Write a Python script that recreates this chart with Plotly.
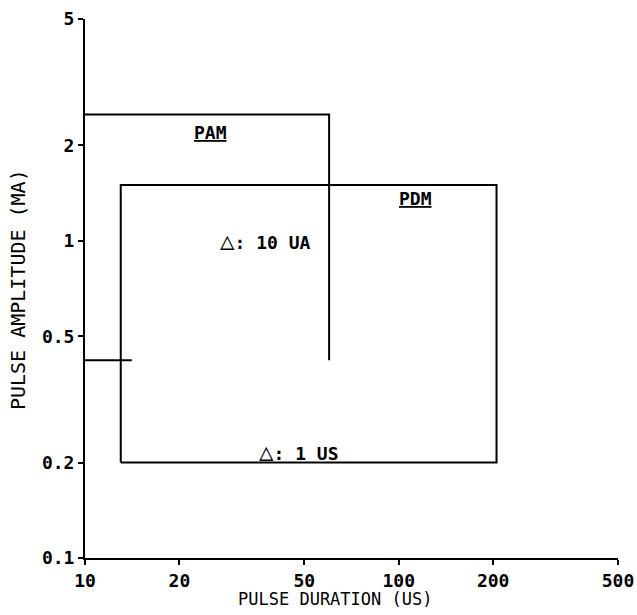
import math
import plotly.graph_objects as go

# Data
x_ticks = [10, 20, 50, 100, 200, 500]
x_tick_labels = ["10", "20", "50", "100", "200", "500"]
y_ticks = [0.1, 0.2, 0.5, 1, 2, 5]
y_tick_labels = ["0.1", "0.2", "0.5", "1", "2", "5"]

pam_x = [10, 60]          # PAM region duration limits (us)
pam_y = [0.42, 2.5]       # PAM region amplitude limits (mA)
pam_stub_x = 14.1         # short drawn part of PAM bottom edge
pdm_x = [13, 205]         # PDM region duration limits (us)
pdm_y = [0.2, 1.5]        # PDM region amplitude limits (mA)

labels = ["PAM", "PDM", "10 UA", "1 US"]
label_x = [25.2, 113, 37.5, 47.8]
label_y = [2.2, 1.36, 1.0, 0.2165]

FONT = "DejaVu Sans Mono"
LINE = dict(color="black", width=2)
TRI = '<span style="font-size:24px;font-weight:normal">△</span>'

fig = go.Figure()
# PAM box: top, right side, and partial bottom
fig.add_trace(go.Scatter(
    x=[pam_x[0], pam_x[1], pam_x[1]],
    y=[pam_y[1], pam_y[1], pam_y[0]],
    mode="lines", line=LINE, showlegend=False, hoverinfo="skip"))
fig.add_trace(go.Scatter(
    x=[pam_x[0], pam_stub_x], y=[pam_y[0], pam_y[0]],
    mode="lines", line=LINE, showlegend=False, hoverinfo="skip"))
# PDM box
fig.add_trace(go.Scatter(
    x=[pdm_x[0], pdm_x[1], pdm_x[1], pdm_x[0], pdm_x[0]],
    y=[pdm_y[0], pdm_y[0], pdm_y[1], pdm_y[1], pdm_y[0]],
    mode="lines", line=LINE, showlegend=False, hoverinfo="skip"))

for i, t in enumerate(labels):
    txt = f"<u>{t}</u>" if i < 2 else f"{TRI}: {t}"
    fig.add_annotation(x=math.log10(label_x[i]), y=math.log10(label_y[i]),
                       xref="x", yref="y",
                       text=txt, showarrow=False,
                       font=dict(family=FONT, size=18, color="black", weight="bold"))

# axis titles
fig.add_annotation(x=0.469, y=0, xref="paper", yref="paper", yshift=-41,
                   xanchor="center", yanchor="middle", showarrow=False,
                   text="PULSE DURATION (US)", borderpad=0,
                   font=dict(family=FONT, size=17, color="black", weight="normal"))
fig.add_annotation(x=0, y=0.497, xref="paper", yref="paper", xshift=-67,
                   xanchor="center", yanchor="middle", showarrow=False, textangle=-90,
                   text="PULSE AMPLITUDE (MA)", borderpad=0,
                   font=dict(family=FONT, size=20, color="black", weight="normal"))

fig.update_layout(
    width=637, height=615,
    margin=dict(l=85, r=19, t=19, b=57, autoexpand=False),
    paper_bgcolor="white", plot_bgcolor="white",
    font=dict(family=FONT, size=16, color="black", weight="bold"),
)
fig.update_xaxes(
    type="log", range=[1, 2.69897], tickvals=x_ticks, ticktext=x_tick_labels,
    showgrid=False, zeroline=False, showline=True, linecolor="black", linewidth=2,
    ticks="outside", ticklen=5, tickwidth=2, tickcolor="black", automargin=False,
    tickfont=dict(family=FONT, size=18, color="black", weight="bold"),
)
fig.update_yaxes(
    type="log", range=[-1, 0.69897], tickvals=y_ticks, ticktext=y_tick_labels,
    showgrid=False, zeroline=False, showline=True, linecolor="black", linewidth=2,
    ticks="outside", ticklen=5, tickwidth=2, tickcolor="black", automargin=False,
    tickfont=dict(family=FONT, size=18, color="black", weight="bold"),
)

fig.write_html("out.html", config={"displayModeBar": False},
               post_script="document.body.style.margin='0';document.body.style.overflow='hidden';")
